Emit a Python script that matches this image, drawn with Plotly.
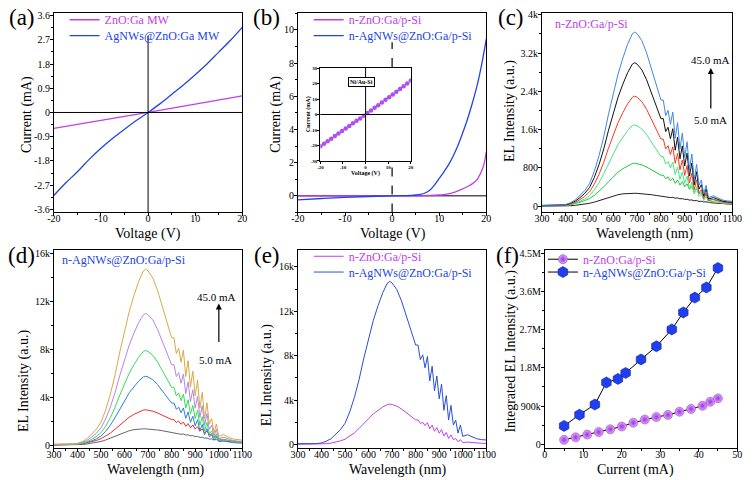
import plotly.graph_objects as go

FONT = "Liberation Serif"
MAG = "#c040e8"
BLU = "#2244e6"

# ---------------- data ----------------
# (a) I-V of microwires
a_v_zno = [-20, -10, 0, 10, 20]
a_i_zno = [-0.59, -0.30, 0.0, 0.31, 0.62]
a_v_ag = [-20, -17.5, -15, -12.5, -10, -7.5, -5, -2.5, 0, 2.5, 5, 7.5, 10, 12.5, 15, 17.5, 20]
a_i_ag = [-3.08, -2.62, -2.20, -1.74, -1.33, -0.96, -0.62, -0.30, 0.0, 0.32, 0.67, 1.02, 1.40, 1.80, 2.24, 2.68, 3.16]

# (b) I-V of heterojunctions
b_v_zno = [-20, -10, 0, 5, 8, 10, 11, 12, 13, 14, 15, 16, 17, 18, 18.5, 19, 19.5, 20]
b_i_zno = [0.0, -0.01, 0.0, 0.0, 0.02, 0.05, 0.08, 0.12, 0.20, 0.30, 0.42, 0.56, 0.72, 0.96, 1.20, 1.50, 1.90, 2.65]
b_v_ag = [-20, -15, -10, -5, 0, 2, 4, 5, 6, 7, 8, 9, 10, 11, 12, 13, 14, 15, 16, 17, 18, 19, 20]
b_i_ag = [-0.24, -0.16, -0.09, -0.04, 0.0, 0.01, 0.03, 0.05, 0.09, 0.17, 0.34, 0.65, 1.05, 1.45, 1.88, 2.42,
          3.05, 3.80, 4.62, 5.55, 6.60, 7.90, 9.45]
# inset Ni/Au-Si
in_v = [-20, -18.4, -16.8, -15.2, -13.6, -12, -10.4, -8.8, -7.2, -5.6, -4, -2.4, -0.8, 0.8, 2.4, 4, 5.6, 7.2,
        8.8, 10.4, 12, 13.6, 15.2, 16.8, 18.4, 20]
in_i = [-20.5, -18.9, -17.2, -15.6, -13.9, -12.3, -10.6, -9.0, -7.4, -5.7, -4.1, -2.5, -0.8, 0.9, 2.6, 4.3,
        6.0, 7.8, 9.5, 11.2, 13.0, 14.7, 16.5, 18.3, 20.1, 22.0]

# EL spectra wavelength grid
wl = [300, 340, 380, 400, 420, 440, 460, 480, 500, 520, 540, 560, 580, 600, 620, 640, 660, 680, 690, 700,
      720, 740, 760, 780, 800, 810, 820, 830, 840, 850, 860, 870, 880, 890, 900, 910, 920, 930, 940, 950,
      960, 970, 980, 990, 1000, 1020, 1040, 1060, 1080, 1100]

# (c) n-ZnO:Ga/p-Si, 5.0 mA -> 45.0 mA
c1 = [0, 0, 2, 5, 10, 18, 28, 42, 60, 85, 115, 150, 185, 215, 240, 258, 268, 272, 270, 268, 262, 252, 240, 225, 210,
      205, 190, 195, 180, 185, 168, 172, 155, 158, 142, 145, 128, 130, 115, 118, 100, 103, 88, 92, 78,
      68, 58, 50, 45, 40]
c2 = [5, 5, 9, 18, 32, 54, 81, 117, 162, 225, 306, 405, 513, 612, 711, 783, 846, 891, 900, 891, 864, 819, 765, 702, 648,
      648, 576, 612, 531, 585, 477, 549, 441, 513, 405, 468, 351, 414, 297, 360, 261, 288, 207, 234, 153,
      144, 117, 99, 90, 81]
c3 = [8, 8, 10, 17, 34, 60, 102, 153, 221, 340, 493, 680, 901, 1088, 1292, 1445, 1581, 1683, 1700, 1683, 1615, 1496,
      1343, 1190, 1037, 1037, 884, 935, 799, 918, 663, 816, 561, 714, 476, 629, 357, 510, 255, 408, 204, 255, 119,
      204, 85, 102, 77, 60, 51, 48]
c4 = [12, 12, 14, 23, 46, 81, 138, 207, 299, 460, 667, 920, 1219, 1472, 1748, 1955, 2139, 2277, 2300, 2277, 2185,
      2024, 1817, 1610, 1403, 1403, 1196, 1265, 1081, 1242, 897, 1104, 759, 966, 644, 851, 483, 690, 345, 552, 276,
      345, 161, 276, 115, 138, 104, 81, 69, 64]
c5 = [15, 15, 18, 30, 60, 105, 180, 270, 390, 600, 870, 1200, 1590, 1920, 2280, 2550, 2790, 2970, 3000, 2970, 2850,
      2640, 2370, 2100, 1830, 1830, 1560, 1650, 1410, 1620, 1170, 1440, 990, 1260, 840, 1110, 630, 900, 450, 720,
      360, 450, 210, 360, 150, 180, 135, 105, 90, 84]
c6 = [18, 18, 22, 36, 73, 127, 218, 328, 473, 728, 1056, 1456, 1929, 2330, 2766, 3094, 3385, 3604, 3640, 3604, 3458,
      3203, 2876, 2548, 2220, 2220, 1893, 2002, 1711, 1966, 1420, 1747, 1201, 1529, 1019, 1347, 764, 1092, 546, 874,
      437, 546, 255, 437, 182, 218, 164, 127, 109, 102]

# (d) n-AgNWs@ZnO:Ga/p-Si, 5.0 mA -> 45.0 mA
d1 = [0, 0, 10, 25, 50, 90, 140, 210, 300, 425, 575, 750, 925, 1075, 1200, 1290, 1340, 1360, 1350, 1340, 1310, 1260,
      1200, 1125, 1050, 1025, 950, 975, 900, 925, 840, 860, 775, 790, 710, 725, 640, 650, 575, 590, 500, 515, 440,
      460, 390, 340, 290, 250, 225, 200]
d2 = [15, 15, 30, 59, 103, 177, 266, 384, 531, 738, 1003, 1328, 1682, 2006, 2331, 2567, 2773, 2921, 2950, 2921, 2832,
      2685, 2508, 2301, 2124, 2124, 1888, 2006, 1741, 1918, 1564, 1800, 1446, 1682, 1328, 1534, 1151, 1357, 974,
      1180, 856, 944, 679, 767, 502, 472, 384, 325, 295, 266]
d3 = [29, 29, 35, 58, 115, 201, 345, 518, 748, 1150, 1668, 2300, 3048, 3680, 4370, 4888, 5348, 5693, 5750, 5693, 5463,
      5060, 4543, 4025, 3508, 3508, 2990, 3163, 2703, 3105, 2243, 2760, 1898, 2415, 1610, 2128, 1208, 1725, 863,
      1380, 690, 863, 403, 690, 288, 345, 259, 201, 173, 161]
d4 = [40, 40, 47, 79, 158, 277, 474, 711, 1027, 1580, 2291, 3160, 4187, 5056, 6004, 6715, 7347, 7821, 7900, 7821,
      7505, 6952, 6241, 5530, 4819, 4819, 4108, 4345, 3713, 4266, 3081, 3792, 2607, 3318, 2212, 2923, 1659, 2370,
      1185, 1896, 948, 1185, 553, 948, 395, 474, 356, 277, 237, 221]
d5 = [55, 55, 66, 110, 220, 385, 660, 990, 1430, 2200, 3190, 4400, 5830, 7040, 8360, 9350, 10230, 10890, 11000,
      10890, 10450, 9680, 8690, 7700, 6710, 6710, 5720, 6050, 5170, 5940, 4290, 5280, 3630, 4620, 3080, 4070, 2310,
      3300, 1650, 2640, 1320, 1650, 770, 1320, 550, 660, 495, 385, 330, 308]
d6 = [74, 74, 88, 147, 294, 515, 882, 1323, 1911, 2940, 4263, 5880, 7791, 9408, 11172, 12495, 13671, 14553, 14700,
      14553, 13965, 12936, 11613, 10290, 8967, 8967, 7644, 8085, 6909, 7938, 5733, 7056, 4851, 6174, 4116, 5439,
      3087, 4410, 2205, 3528, 1764, 2205, 1029, 1764, 735, 882, 662, 515, 441, 412]

# (e) comparison at 45.0 mA
e_zno = c6
e_ag = d6

# (f) integrated EL intensity
f_i_zno = [5, 8, 11, 14, 17, 20, 23, 26, 29, 32, 35, 38, 41, 43, 45]
f_zno = [100e3, 160e3, 225e3, 285e3, 350e3, 415e3, 505e3, 580e3, 640e3, 690e3, 765e3, 830e3, 905e3, 1.0e6, 1.08e6]
f_i_ag = [5, 9, 13, 16, 19, 21, 25, 29, 33, 36, 39, 42, 45]
f_ag = [430e3, 695e3, 935e3, 1.456e6, 1.54e6, 1.68e6, 2.0e6, 2.31e6, 2.71e6, 3.11e6, 3.46e6, 3.70e6, 4.16e6]

# tick labels
iv_x_ticks = [-20, -10, 0, 10, 20]
iv_x_text = ["-20", "-10", "0", "10", "20"]
a_y_ticks = [-3.6, -2.7, -1.8, -0.9, 0, 0.9, 1.8, 2.7, 3.6]
a_y_text = ["-3.6", "-2.7", "-1.8", "-0.9", "0", "0.9", "1.8", "2.7", "3.6"]
b_y_ticks = [0, 2, 4, 6, 8, 10]
in_y_ticks = [-30, -20, -10, 0, 10, 20, 30]
in_y_text = ["-30", "-20", "-10", "0", "10", "20", "30"]

c_colors = ["#222222", "#1fc63a", "#45e57f", "#f03c22", "#111111", "#3f86e6"]
d_colors = ["#666666", "#e8302e", "#2f7fda", "#38dc52", "#b586e6", "#d9a848"]

W, H = 754, 480


def px(x):
    return x / W


def py(y):
    return 1 - y / H


def span(color, text):
    return "<span style='color:%s'>%s</span>" % (color, text)


fig = go.Figure()

# (a)
fig.add_trace(go.Scatter(x=a_v_zno, y=a_i_zno, mode="lines", line=dict(color=MAG, width=1.3),
                         name=span(MAG, "ZnO:Ga MW"), legend="legend", xaxis="x", yaxis="y"))
fig.add_trace(go.Scatter(x=a_v_ag, y=a_i_ag, mode="lines", line=dict(color=BLU, width=1.3, shape="spline"),
                         name=span(BLU, "AgNWs@ZnO:Ga MW"), legend="legend2", xaxis="x", yaxis="y"))
# (b)
fig.add_trace(go.Scatter(x=b_v_zno, y=b_i_zno, mode="lines", line=dict(color=MAG, width=1.3, shape="spline"),
                         name=span(MAG, "n-ZnO:Ga/p-Si"), legend="legend3", xaxis="x2", yaxis="y2"))
fig.add_trace(go.Scatter(x=b_v_ag, y=b_i_ag, mode="lines", line=dict(color=BLU, width=1.3, shape="spline"),
                         name=span(BLU, "n-AgNWs@ZnO:Ga/p-Si"), legend="legend4", xaxis="x2", yaxis="y2"))
# inset
fig.add_trace(go.Scatter(x=in_v, y=in_i, mode="lines+markers", line=dict(color="#333333", width=0.8),
                         marker=dict(color="#b04ef0", size=4.5), showlegend=False, xaxis="x7", yaxis="y7"))
# (c)
for ys, col in zip([c1, c2, c3, c4, c5, c6], c_colors):
    fig.add_trace(go.Scatter(x=wl, y=ys, mode="lines", line=dict(color=col, width=1.0), showlegend=False,
                             xaxis="x3", yaxis="y3"))
# (d)
for ys, col in zip([d1, d2, d3, d4, d5, d6], d_colors):
    fig.add_trace(go.Scatter(x=wl, y=ys, mode="lines", line=dict(color=col, width=1.0), showlegend=False,
                             xaxis="x4", yaxis="y4"))
# (e)
fig.add_trace(go.Scatter(x=wl, y=e_zno, mode="lines", line=dict(color=MAG, width=1.0),
                         name=span(MAG, "n-ZnO:Ga/p-Si"), legend="legend5", xaxis="x5", yaxis="y5"))
fig.add_trace(go.Scatter(x=wl, y=e_ag, mode="lines", line=dict(color="#2a4fd8", width=1.0),
                         name=span(BLU, "n-AgNWs@ZnO:Ga/p-Si"), legend="legend6", xaxis="x5", yaxis="y5"))
# (f)
fig.add_trace(go.Scatter(x=f_i_zno, y=f_zno, mode="lines+markers", line=dict(color="black", width=1),
                         marker=dict(symbol="circle", size=9, color="#e2a6ff",
                                     gradient=dict(type="radial", color="#9a34d6"),
                                     line=dict(color="#8a2cc4", width=0.5)),
                         name=span(MAG, "n-ZnO:Ga/p-Si"), legend="legend7", xaxis="x6", yaxis="y6"))
fig.add_trace(go.Scatter(x=f_i_ag, y=f_ag, mode="lines+markers", line=dict(color="black", width=1),
                         marker=dict(symbol="hexagon", size=11, color="#1f3ff0",
                                     line=dict(color="#0c1f9a", width=0.6)),
                         name=span(BLU, "n-AgNWs@ZnO:Ga/p-Si"), legend="legend8", xaxis="x6", yaxis="y6"))


def axis(domain, anchor, rng, size=10, standoff=-3, **kw):
    d = dict(domain=domain, anchor=anchor, range=rng, showline=True, linecolor="black", linewidth=1,
             mirror=True, ticks="outside", ticklen=3, tickwidth=1, tickcolor="black", showgrid=False,
             zeroline=False, ticklabelstandoff=standoff, tickfont=dict(family=FONT, size=size, color="black"))
    d.update(kw)
    return d


def minor(t0, dt, ln=2):
    return dict(tickmode="linear", tick0=t0, dtick=dt, ticks="outside", ticklen=ln, tickcolor="black",
                showgrid=False)


top = [py(211.5), py(9.5)]
bot = [py(451), py(249.3)]
colA = [px(47), px(240)]
colB = [px(297), px(490)]
colC = [px(547), px(742)]
colF = [px(550), px(747)]

XS = -6
YS = -2
layout = dict(
    width=W, height=H, margin=dict(l=0, r=0, t=0, b=0), paper_bgcolor="white", plot_bgcolor="white",
    font=dict(family=FONT, color="black"),
    xaxis=axis(colA, "y", [-20, 20], standoff=XS, tickmode="array", tickvals=iv_x_ticks, ticktext=iv_x_text,
               minor=minor(-20, 5)),
    yaxis=axis(top, "x", [-3.71, 3.68], standoff=YS, tickmode="array", tickvals=a_y_ticks, ticktext=a_y_text,
               minor=minor(-3.6, 0.45)),
    xaxis2=axis(colB, "y2", [-20, 20], standoff=XS, tickmode="array", tickvals=iv_x_ticks, ticktext=iv_x_text,
                minor=minor(-20, 5)),
    yaxis2=axis(top, "x2", [-1, 11], standoff=YS, tickmode="array", tickvals=b_y_ticks, minor=minor(0, 1)),
    xaxis3=axis(colC, "y3", [300, 1100], standoff=XS, tickmode="linear", tick0=300, dtick=100,
                minor=minor(300, 50)),
    yaxis3=axis(top, "x3", [-130, 4031], standoff=YS, tickmode="linear", tick0=0, dtick=800, tickformat="~s",
                minor=minor(0, 400)),
    xaxis4=axis(colA, "y4", [300, 1100], standoff=XS, tickmode="linear", tick0=300, dtick=100,
                minor=minor(300, 50)),
    yaxis4=axis(bot, "x4", [-280, 16330], standoff=YS, tickmode="linear", tick0=0, dtick=4000, tickformat="~s",
                minor=minor(0, 2000)),
    xaxis5=axis(colB, "y5", [300, 1100], standoff=XS, tickmode="linear", tick0=300, dtick=100,
                minor=minor(300, 50)),
    yaxis5=axis(bot, "x5", [-350, 17560], standoff=YS, tickmode="linear", tick0=0, dtick=4000, tickformat="~s",
                minor=minor(0, 2000)),
    xaxis6=axis(colF, "y6", [0, 50], standoff=XS, tickmode="linear", tick0=0, dtick=10, minor=minor(0, 5)),
    yaxis6=axis(bot, "x6", [-102000, 4593000], standoff=YS, tickmode="linear", tick0=0, dtick=900000,
                tickformat="~s", minor=minor(0, 450000)),
    xaxis7=axis([px(320), px(412.7)], "y7", [-20, 20], size=5, standoff=-1, ticklen=2, tickmode="array",
                tickvals=iv_x_ticks, ticktext=iv_x_text,
                tickfont=dict(family=FONT, size=5, color="black", weight="bold")),
    yaxis7=axis([py(159.3), py(65)], "x7", [-30, 30], size=5, standoff=-1, ticklen=2, tickmode="array",
                tickvals=in_y_ticks, ticktext=in_y_text,
                tickfont=dict(family=FONT, size=5, color="black", weight="bold")),
)

leg = dict(xanchor="left", yanchor="middle", bgcolor="rgba(0,0,0,0)", borderwidth=0,
           font=dict(family=FONT, size=12), itemwidth=30, tracegroupgap=0)
legend_pos = {
    "legend": (58, 16), "legend2": (58, 32),
    "legend3": (308, 16), "legend4": (308, 32),
    "legend5": (308, 256), "legend6": (308, 272),
    "legend7": (548, 259), "legend8": (548, 272),
}
for k, (lx, ly) in legend_pos.items():
    layout[k] = dict(leg, x=px(lx), y=py(ly))

shapes = [
    # (a) cross lines
    dict(type="line", xref="x", yref="y", x0=0, x1=0, y0=-3.71, y1=2.85, line=dict(color="black", width=1)),
    dict(type="line", xref="x domain", yref="y", x0=0, x1=1, y0=0, y1=0, line=dict(color="black", width=1)),
    # (b) zero line and dashed V=0 line
    dict(type="line", xref="x2 domain", yref="y2", x0=0, x1=1, y0=0, y1=0, layer="below",
         line=dict(color="#555555", width=1.5)),
    dict(type="line", xref="x2", yref="y2", x0=0, x1=0, y0=7.76, y1=9.26,
         line=dict(color="black", width=1.2, dash="dash")),
    dict(type="line", xref="x2", yref="y2", x0=0, x1=0, y0=-1, y1=2.1,
         line=dict(color="black", width=1.2, dash="dash")),
    # inset cross lines
    dict(type="line", xref="x7", yref="y7 domain", x0=0, x1=0, y0=0, y1=1, line=dict(color="black", width=1)),
    dict(type="line", xref="x7 domain", yref="y7", x0=0, x1=1, y0=0, y1=0, line=dict(color="black", width=1)),
]
layout["shapes"] = shapes


def ann(x, y, text, size=14, color="black", angle=0, xanchor="center", **kw):
    d = dict(x=px(x), y=py(y), xref="paper", yref="paper", text=text, showarrow=False, textangle=angle,
             xanchor=xanchor, yanchor="middle", font=dict(family=FONT, size=size, color=color))
    d.update(kw)
    return d


anns = [
    ann(14, 14, "(a)", 23, borderpad=0), ann(265, 14, "(b)", 23, borderpad=0),
    ann(515, 14, "(c)", 23, borderpad=0),
    ann(13.5, 255, "(d)", 23, borderpad=0), ann(265, 255, "(e)", 23, borderpad=0),
    ann(511.5, 255, "(f)", 23, borderpad=0),
    # axis titles
    ann(20, 112, "Current (mA)", angle=-90), ann(143, 233, "Voltage (V)"),
    ann(275, 112, "Current (mA)", angle=-90), ann(394, 233, "Voltage (V)"),
    ann(515, 109, "EL Intensity (a.u.)", angle=-90), ann(653, 233, "Wavelength (nm)"),
    ann(17, 383, "EL Intensity (a.u.)", angle=-90), ann(152, 472.5, "Wavelength (nm)"),
    ann(265, 377, "EL Intensity (a.u.)", angle=-90), ann(400, 472.5, "Wavelength (nm)"),
    ann(515, 352, "Integrated EL Intensity (a.u.)", angle=-90), ann(643, 472.5, "Current (mA)"),
    # inset labels
    ann(308, 112, "<b>Current (mA)</b>", size=6, angle=-90),
    ann(366, 172, "<b>Voltage (V)</b>", size=6),
    dict(x=-2, y=21, xref="x7", yref="y7", text="<b>Ni/Au-Si</b>", showarrow=False,
         font=dict(family=FONT, size=6, color="black"), bordercolor="black", borderwidth=1, borderpad=1,
         bgcolor="white"),
    # (c) texts
    ann(558, 20, "n-ZnO:Ga/p-Si", 12, MAG, xanchor="left"),
    ann(720, 57, "45.0 mA", 11), ann(720, 118, "5.0 mA", 11),
    dict(x=px(720), y=py(65), xref="paper", yref="paper", ax=0, ay=42, axref="pixel", ayref="pixel",
         text="", showarrow=True, arrowhead=2, arrowsize=1, arrowwidth=1.2, arrowcolor="black"),
    # (d) texts
    ann(53, 260, "n-AgNWs@ZnO:Ga/p-Si", 12, BLU, xanchor="left"),
    ann(214, 297, "45.0 mA", 11), ann(213, 361, "5.0 mA", 11),
    dict(x=px(216), y=py(304), xref="paper", yref="paper", ax=0, ay=40, axref="pixel", ayref="pixel",
         text="", showarrow=True, arrowhead=2, arrowsize=1, arrowwidth=1.2, arrowcolor="black"),
]
layout["annotations"] = anns

fig.update_layout(**layout)
fig.write_html("out.html", config={"displayModeBar": False},
               post_script="document.body.style.margin='0px';document.body.style.overflow='hidden';")
